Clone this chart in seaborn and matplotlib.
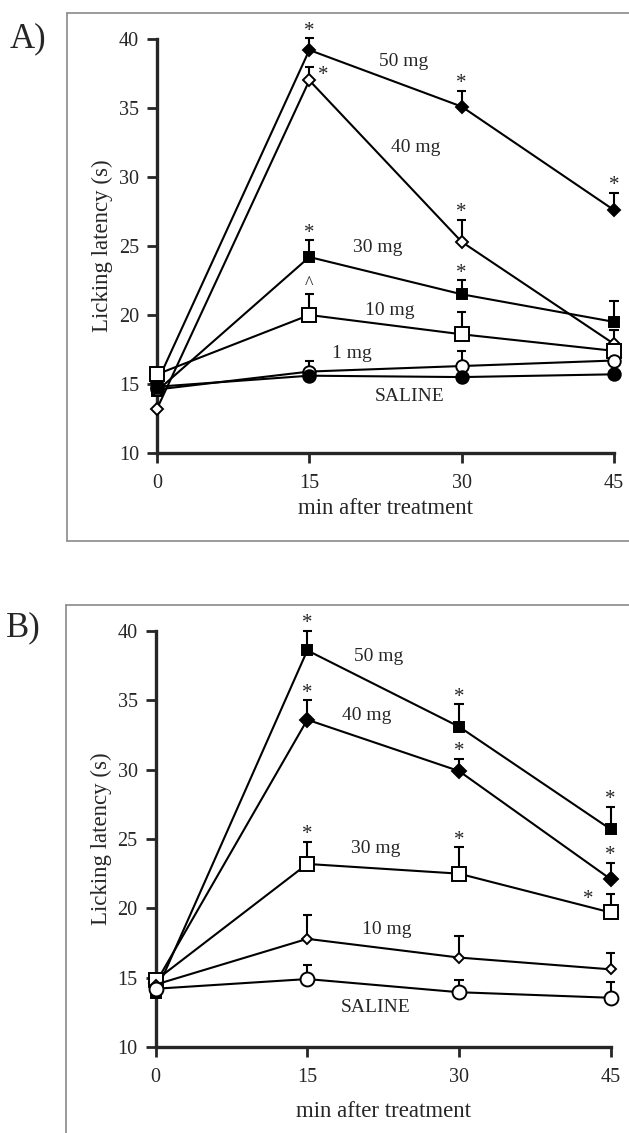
import matplotlib
matplotlib.use("Agg")
import matplotlib.pyplot as plt
from matplotlib.lines import Line2D
import pandas as pd
import seaborn as sns

# time points (min after treatment)
times = [0, 15, 30, 45]

# Panel A: mean licking latency (s) and upper SEM
a_groups = ["50 mg", "40 mg", "30 mg", "10 mg", "1 mg", "SALINE"]
a_means = {
    "50 mg": [15.1, 39.2, 35.1, 27.6],
    "40 mg": [13.2, 37.0, 25.3, 17.9],
    "30 mg": [14.5, 24.2, 21.5, 19.5],
    "10 mg": [15.7, 20.0, 18.6, 17.4],
    "1 mg": [14.6, 15.9, 16.3, 16.7],
    "SALINE": [14.8, 15.6, 15.5, 15.7],
}
a_errs = {
    "50 mg": [0, 0.85, 1.15, 1.25],
    "40 mg": [0, 1.0, 1.6, 1.0],
    "30 mg": [0, 1.2, 1.0, 1.5],
    "10 mg": [0, 1.5, 1.6, 0],
    "1 mg": [0, 0.8, 1.1, 0],
    "SALINE": [0, 0, 0, 0],
}
a_stars = {"50 mg": [15, 30, 45], "40 mg": [30], "30 mg": [15, 30]}

# Panel B
b_groups = ["50 mg", "40 mg", "30 mg", "10 mg", "SALINE"]
b_means = {
    "50 mg": [13.9, 38.6, 33.1, 25.7],
    "40 mg": [14.6, 33.6, 29.9, 22.1],
    "30 mg": [14.8, 23.2, 22.5, 19.7],
    "10 mg": [14.5, 17.8, 16.45, 15.6],
    "SALINE": [14.2, 14.9, 13.95, 13.55],
}
b_errs = {
    "50 mg": [0, 1.4, 1.6, 1.6],
    "40 mg": [0, 1.4, 0.9, 1.2],
    "30 mg": [0, 1.6, 1.9, 1.3],
    "10 mg": [0, 1.7, 1.55, 1.15],
    "SALINE": [0, 1.0, 0.85, 1.15],
}
b_stars = {"50 mg": [15, 30, 45], "40 mg": [15, 30, 45], "30 mg": [15, 30]}

# marker style per group: (marker, size, filled)
a_style = {
    "50 mg": ("D", 6, True),
    "40 mg": ("D", 6, False),
    "30 mg": ("s", 7, True),
    "10 mg": ("s", 10, False),
    "1 mg": ("o", 9, False),
    "SALINE": ("o", 9, True),
}
b_style = {
    "50 mg": ("s", 7.5, True),
    "40 mg": ("D", 7.5, True),
    "30 mg": ("s", 10, False),
    "10 mg": ("D", 5.5, False),
    "SALINE": ("o", 10, False),
}

# label positions in data coords
a_labels = {"50 mg": (24.3, 38.4), "40 mg": (25.5, 32.1), "30 mg": (21.7, 24.9),
            "10 mg": (22.9, 20.35), "1 mg": (19.2, 17.2), "SALINE": (24.9, 14.1)}
b_labels = {"50 mg": (22.1, 38.15), "40 mg": (20.9, 33.9), "30 mg": (21.8, 24.3),
            "10 mg": (22.9, 18.5), "SALINE": (21.8, 12.85)}

sns.set_style("ticks")
plt.rcParams["font.family"] = ["Liberation Serif", "DejaVu Serif"]


def draw_panel(ax, groups, means, errs, styles, stars, labels, xpad):
    for g in groups:
        df = pd.DataFrame({"time": times, "latency": means[g]})
        mk, ms, filled = styles[g]
        sns.lineplot(data=df, x="time", y="latency", ax=ax, color="black",
                     linewidth=1.5, marker=mk, markersize=ms,
                     markerfacecolor="black" if filled else "white",
                     markeredgecolor="black", markeredgewidth=1.4,
                     clip_on=False, zorder=3)
        for t, m, e in zip(times, means[g], errs[g]):
            if e > 0:
                ax.vlines(t, m, m + e, color="black", linewidth=1.5, zorder=2, clip_on=False)
                ax.hlines(m + e, t - 0.45, t + 0.45, color="black", linewidth=1.5, zorder=2, clip_on=False)
        for t in stars.get(g, []):
            i = times.index(t)
            ax.text(t, means[g][i] + errs[g][i] + 0.2, "*", ha="center", va="baseline",
                    fontsize=15)
        lx, ly = labels[g]
        ax.text(lx, ly, g, ha="center", va="center", fontsize=14)

    ax.set_xlim(0, 45)
    ax.set_ylim(10, 40)
    ax.set_xticks(times)
    ax.set_yticks([10, 15, 20, 25, 30, 35, 40])
    ax.set_xlabel("min after treatment", fontsize=16.5, labelpad=xpad)
    ax.set_ylabel("Licking latency (s)", fontsize=16.5, labelpad=4)
    ax.tick_params(axis="both", direction="out", length=7, width=2, labelsize=14.5)
    ax.tick_params(axis="x", pad=8)
    ax.tick_params(axis="y", pad=6)
    sns.despine(ax=ax)
    for side in ["left", "bottom"]:
        ax.spines[side].set_linewidth(2.4)


fig = plt.figure(figsize=(6.29, 11.33), dpi=100)
ax_a = fig.add_axes([0.2496, 0.6002, 0.7266, 0.3654])
ax_b = fig.add_axes([0.2474, 0.0759, 0.7235, 0.3672])

draw_panel(ax_a, a_groups, a_means, a_errs, a_style, a_stars, a_labels, 4)
draw_panel(ax_b, b_groups, b_means, b_errs, b_style, b_stars, b_labels, 10)

# special marks in panel A: star right of 40 mg at 15 min, caret above 10 mg
ax_a.text(16.4, a_means["40 mg"][1] + 0.0, "*", ha="center", va="baseline", fontsize=15)
ax_a.text(15, a_means["10 mg"][1] + a_errs["10 mg"][1] + 0.4, "^", ha="center",
          va="baseline", fontsize=13)
# panel B: star left of 30 mg at 45 min
ax_b.text(42.8, b_means["30 mg"][3] + 0.6, "*", ha="center", va="baseline", fontsize=15)

# panel frames
box_col = "#8a8a8a"
fig.add_artist(Line2D([0.1065, 1.0], [0.9888, 0.9888], color=box_col, lw=1.2))
fig.add_artist(Line2D([0.1065, 0.1065], [0.5225, 0.9888], color=box_col, lw=1.2))
fig.add_artist(Line2D([0.1065, 1.0], [0.5225, 0.5225], color=box_col, lw=1.2))
fig.add_artist(Line2D([0.105, 1.0], [0.4664, 0.4664], color=box_col, lw=1.2))
fig.add_artist(Line2D([0.105, 0.105], [0.0, 0.4664], color=box_col, lw=1.2))

fig.text(0.016, 0.966, "A)", fontsize=25, ha="left", va="center")
fig.text(0.009, 0.446, "B)", fontsize=25, ha="left", va="center")

fig.savefig("out.png", dpi=100)
